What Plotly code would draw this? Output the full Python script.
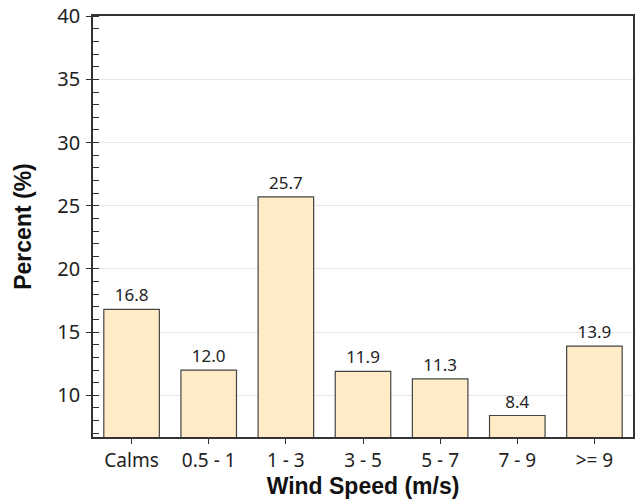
import plotly.graph_objects as go

categories = ["Calms", "0.5 - 1", "1 - 3", "3 - 5", "5 - 7", "7 - 9", ">= 9"]
percent = [16.8, 12.0, 25.7, 11.9, 11.3, 8.4, 13.9]
labels = ["16.8", "12.0", "25.7", "11.9", "11.3", "8.4", "13.9"]
y_ticks = [10, 15, 20, 25, 30, 35, 40]

fig = go.Figure(go.Bar(
    x=categories, y=percent, text=labels,
    textposition="outside", cliponaxis=False,
    textfont=dict(family="Noto Sans", size=17, color="#222"),
    marker=dict(color="#FFEBC6", line=dict(color="#444", width=1.2)),
))

fig.update_layout(
    width=637, height=502,
    margin=dict(l=93, r=2, t=15, b=65),
    plot_bgcolor="white", paper_bgcolor="white",
    bargap=0.28, showlegend=False,
    font=dict(family="Noto Sans", color="#222"),
)
fig.update_xaxes(
    showline=True, linecolor="#333", linewidth=1.5, mirror=True,
    ticks="outside", ticklen=5, tickcolor="#333",
    tickfont=dict(family="Noto Sans", size=19, color="#222"),
    title=dict(text="<b>Wind Speed (m/s)</b>",
               font=dict(family="Liberation Sans, Arial", size=23, color="#111"), standoff=4),
)
fig.update_yaxes(
    range=[6.7, 40.02], tickvals=y_ticks,
    showline=True, linecolor="#333", linewidth=1.5, mirror=True,
    ticks="outside", ticklen=5, tickcolor="#333", ticklabelstandoff=2,
    ticklabeloverflow="allow",
    showgrid=True, gridcolor="#e6e6e6", gridwidth=1, zeroline=False,
    minor=dict(ticks="inside", ticklen=6, dtick=1, tick0=0, tickcolor="#333", showgrid=False),
    tickfont=dict(family="Noto Sans", size=20, color="#222"),
    title=dict(text="<b>Percent (%)</b>",
               font=dict(family="Liberation Sans, Arial", size=23, color="#111"), standoff=19),
)
fig.write_html("out.html", config={"displayModeBar": False},
               post_script="document.body.style.margin='0px';")
